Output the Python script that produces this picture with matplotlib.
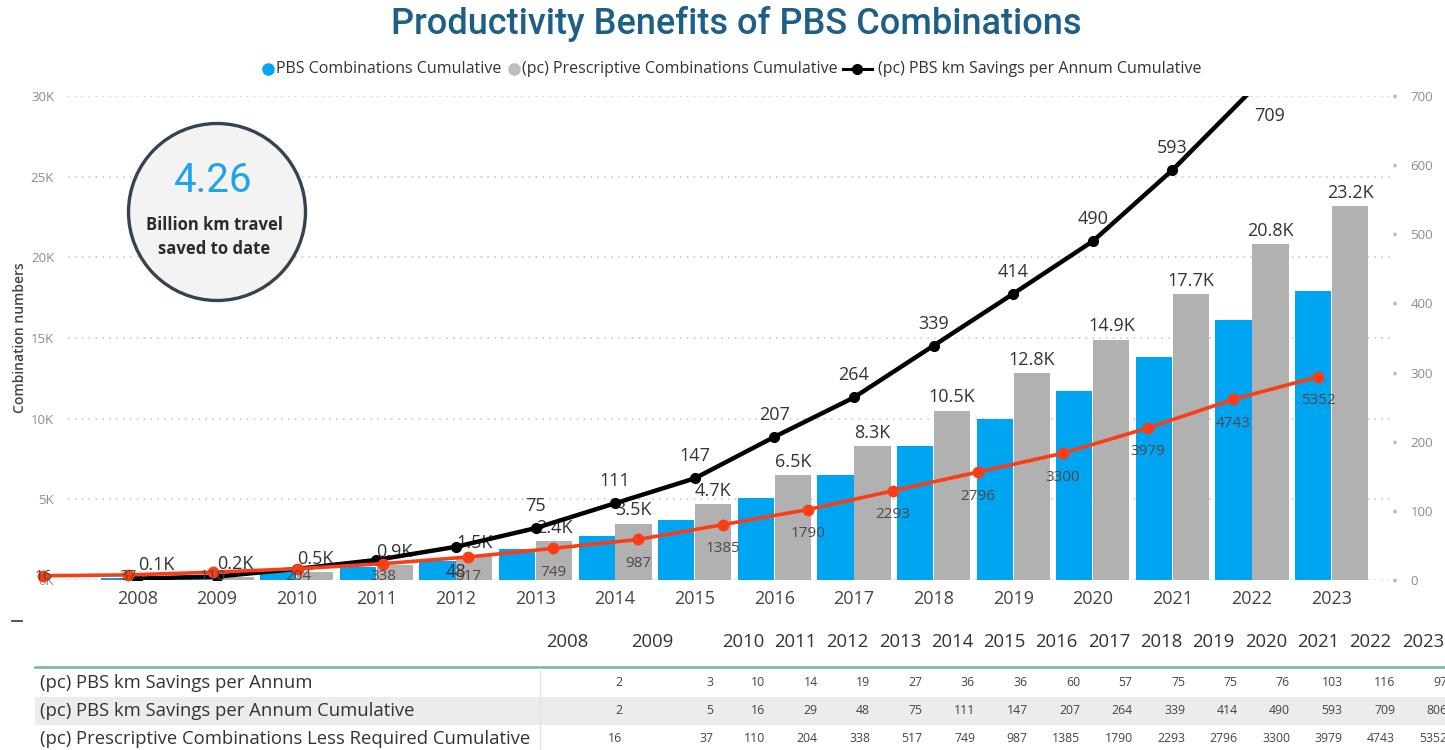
import numpy as np
import matplotlib.pyplot as plt
from matplotlib.patches import Circle, Rectangle
from matplotlib.lines import Line2D
from matplotlib.ticker import FuncFormatter

plt.rcParams["font.family"] = ["Open Sans", "DejaVu Sans"]

W, H = 1445, 750

# ── data ─────────────────────────────────────────────────────────────────────
years = [str(y) for y in range(2008, 2024)]

# cumulative combination counts, thousands
pbs_combinations = [0.10, 0.15, 0.55, 0.80, 1.20, 1.90, 2.70, 3.70,
                    5.10, 6.50, 8.30, 10.0, 11.7, 13.8, 16.1, 17.9]
prescriptive_combinations = [0.1, 0.2, 0.5, 0.9, 1.5, 2.4, 3.5, 4.7,
                             6.5, 8.3, 10.5, 12.8, 14.9, 17.7, 20.8, 23.2]

km_savings_per_annum = [2, 3, 10, 14, 19, 27, 36, 36, 60, 57, 75, 75, 76, 103, 116, 97]
km_savings_cumulative = [2, 5, 16, 29, 48, 75, 111, 147, 207, 264, 339, 414, 490, 593, 709, 806]
less_required_cumulative = [16, 37, 110, 204, 338, 517, 749, 987, 1385, 1790,
                            2293, 2796, 3300, 3979, 4743, 5352]

table_rows = [
    ("(pc) PBS km Savings per Annum", km_savings_per_annum),
    ("(pc) PBS km Savings per Annum Cumulative", km_savings_cumulative),
    ("(pc) Prescriptive Combinations Less Required Cumulative", less_required_cumulative),
]

# ── colours ──────────────────────────────────────────────────────────────────
BLUE = "#00a5f2"
GRAY = "#b1b1b1"
ORANGE = "#fb3d16"
TITLE = "#1d5f86"
TEXT = "#333333"
TICK = "#8c8c8c"


def fx(px):
    return px / W


def fy(py):
    return 1 - py / H


fig = plt.figure(figsize=(W / 100, H / 100), dpi=100)
fig.patch.set_facecolor("white")

# ── bars (left axis) ─────────────────────────────────────────────────────────
ax = fig.add_axes([fx(68), fy(580), fx(1393) - fx(68), fy(96) - fy(580)])
x = np.arange(len(years))
bw = 0.455
ax.bar(x - 0.232, np.array(pbs_combinations) * 1000, bw, color=BLUE, zorder=2)
ax.bar(x + 0.232, np.array(prescriptive_combinations) * 1000, bw, color=GRAY, zorder=2)

ax.set_xlim(-0.872, 15.77)
ax.set_ylim(0, 30000)
ax.set_yticks(range(0, 30001, 5000))
ax.yaxis.set_major_formatter(FuncFormatter(lambda v, _: f"{v / 1000:.0f}K"))
ax.set_xticks(x, years)
ax.grid(axis="y", color="#c2c2c2", linestyle=(0, (1, 3.5)), lw=1.1)
ax.set_axisbelow(True)
for s in ax.spines.values():
    s.set_visible(False)
ax.tick_params(axis="y", length=0, labelsize=9.5, labelcolor=TICK, pad=10)
ax.tick_params(axis="x", length=0, labelsize=13, labelcolor="#444444", pad=7)
ax.set_ylabel("Combination numbers", fontsize=10, color="#444444", fontweight="semibold")
ax.yaxis.set_label_coords(-0.031, 0.5)

for i, v in enumerate(prescriptive_combinations):
    ax.annotate(f"{v:.1f}K", (i + 0.232, v * 1000), xytext=(0, 3),
                textcoords="offset points", ha="center", va="bottom",
                fontsize=13, color=TEXT, zorder=4)

# ── km savings line (right axis) ─────────────────────────────────────────────
ax2 = ax.twinx()
ax2.set_ylim(0, 700)
ax2.set_yticks(range(0, 701, 100))
for s in ax2.spines.values():
    s.set_visible(False)
ax2.tick_params(axis="y", length=2.5, width=2.5, color="#b5b5b5",
                labelsize=9.5, labelcolor=TICK, pad=10)
ax2.plot(x, km_savings_cumulative, color="black", lw=3.2, marker="o", ms=7, zorder=3)

for i, v in enumerate(km_savings_cumulative):
    if i == 4:
        off = (0, -25)
    elif 5 <= i <= 13:
        off = (0, 22)
    elif i == 14:
        off = (17, -26)
    else:
        continue
    ax2.annotate(f"{v}", (i, v), xytext=off, textcoords="offset pixels",
                 ha="center", va="center", fontsize=13, color=TEXT,
                 annotation_clip=False)

# ── less-required line (own overlay) ─────────────────────────────────────────
PX_PER_UNIT = 0.03729
BASE_Y = 576.3
ax3 = fig.add_axes([fx(43), fy(BASE_Y), fx(1318) - fx(43), fy(96) - fy(BASE_Y)])
ax3.set_xlim(0, len(years) - 1)
ax3.set_ylim(0, (BASE_Y - 96) / PX_PER_UNIT)
ax3.axis("off")
ax3.patch.set_visible(False)
ax3.plot(np.arange(len(years)), less_required_cumulative, color=ORANGE, lw=2.6,
         marker="o", ms=7.5, clip_on=False)
for i, v in enumerate(less_required_cumulative):
    # labels sit under the point but never drop below the baseline
    point_y = BASE_Y - v * PX_PER_UNIT
    drop = min(24, max(0, 577 - point_y))
    ax3.annotate(f"{v}", (i, v), xytext=(0, -drop), textcoords="offset pixels",
                 ha="center", va="center", fontsize=11, color="#5a4444",
                 annotation_clip=False)

# ── title and legend ─────────────────────────────────────────────────────────
fig.text(fx(736), fy(24), "Productivity Benefits of PBS Combinations",
         ha="center", va="center", fontsize=26, color=TITLE,
         family=["Roboto", "DejaVu Sans"], fontweight="medium")

ly = fy(69)
LEG = 11.5
fig.add_artist(Line2D([fx(268)], [ly], marker="o", ms=8, color=BLUE,
                      transform=fig.transFigure))
fig.text(fx(276), ly, "PBS Combinations Cumulative", ha="left", va="center",
         fontsize=LEG, color=TEXT)
fig.add_artist(Line2D([fx(514)], [ly], marker="o", ms=8, color="#bdbdbd",
                      transform=fig.transFigure))
fig.text(fx(522), ly, "(pc) Prescriptive Combinations Cumulative", ha="left",
         va="center", fontsize=LEG, color=TEXT)
fig.add_artist(Line2D([fx(843), fx(872)], [ly, ly], color="black", lw=2.2,
                      transform=fig.transFigure))
fig.add_artist(Line2D([fx(857)], [ly], marker="o", ms=7, color="black",
                      transform=fig.transFigure))
fig.text(fx(878), ly, "(pc) PBS km Savings per Annum Cumulative", ha="left",
         va="center", fontsize=LEG, color=TEXT)

# ── headline card ────────────────────────────────────────────────────────────
fig.add_artist(Circle((2.17, (H - 212) / 100), 0.885, transform=fig.dpi_scale_trans,
                      facecolor="#f3f3f3", edgecolor="#34434f", lw=2.4, zorder=10))
fig.text(fx(213), fy(180), "4.26", ha="center", va="center", fontsize=29,
         color="#1ea3ef", family=["Roboto", "DejaVu Sans"], fontweight="normal",
         zorder=11)
fig.text(fx(214), fy(237), "Billion km travel\nsaved to date", ha="center",
         va="center", fontsize=12, color="#2b2b2b", fontweight="bold",
         linespacing=1.45, zorder=11)

# ── summary table ────────────────────────────────────────────────────────────
fig.add_artist(Line2D([fx(12), fx(22)], [fy(621)] * 2, color="#333333", lw=1.2,
                      transform=fig.transFigure))

head_x = [567, 652] + [743 + 52.3 * k for k in range(14)]
for hx, yr in zip(head_x, years):
    fig.text(fx(hx), fy(642), yr, ha="center", va="center", fontsize=13.3, color=TEXT)

fig.add_artist(Rectangle((fx(35), fy(725)), 1 - fx(35), fy(697) - fy(725),
                         transform=fig.transFigure, facecolor="#ececec",
                         edgecolor="none", zorder=0))
fig.add_artist(Line2D([fx(35), 1], [fy(667)] * 2, color="#6fb0aa", lw=1.8,
                      transform=fig.transFigure))
fig.add_artist(Line2D([fx(540), fx(540)], [fy(668), 0], color="#e2e2e2", lw=1,
                      transform=fig.transFigure))

col_right = [622, 713] + [765 + 52.5 * k for k in range(14)]
for r, (label, vals) in enumerate(table_rows):
    ry = fy(683 + 28 * r)
    fig.text(fx(40), ry, label, ha="left", va="center", fontsize=13.3, color=TEXT)
    for cx, v in zip(col_right, vals):
        fig.text(fx(cx), ry, f"{v}", ha="right", va="center", fontsize=8.8,
                 color="#444444")

fig.savefig("out.png", dpi=100, facecolor="white")
